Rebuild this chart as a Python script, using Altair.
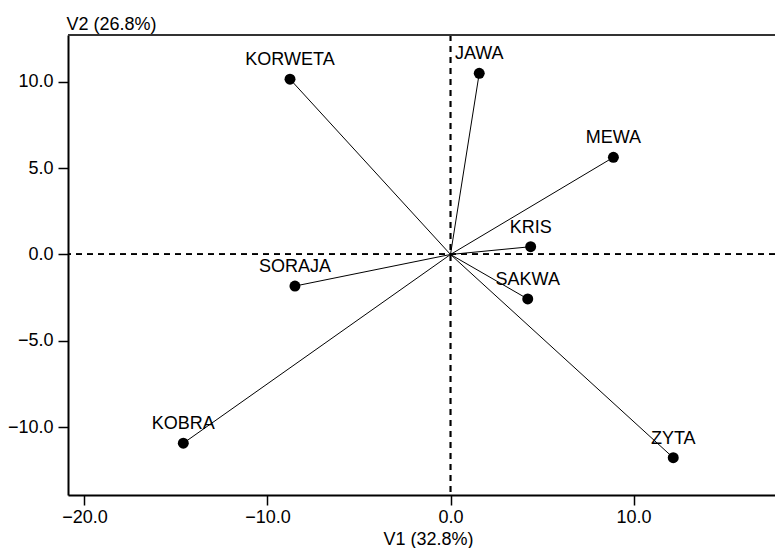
import altair as alt
import pandas as pd

names = ["KORWETA", "JAWA", "MEWA", "KRIS", "SAKWA", "SORAJA", "KOBRA", "ZYTA"]
v1 = [-8.77, 1.57, 8.90, 4.38, 4.22, -8.50, -14.60, 12.17]
v2 = [10.16, 10.50, 5.63, 0.45, -2.58, -1.83, -10.94, -11.78]

x_ticks = [-20, -10, 0, 10]
y_ticks = [-10, -5, 0, 5, 10]
x_dom = [-20.90, 17.73]
y_dom = [-13.94, 12.72]

df = pd.DataFrame({"name": names, "v1": v1, "v2": v2})

FONT = "Liberation Sans"
FS = 18
W = 707

xs = alt.Scale(domain=x_dom, nice=False, zero=False)
ys = alt.Scale(domain=y_dom, nice=False, zero=False)

base = alt.Chart(df)

x_enc = alt.X("v1:Q", scale=xs, axis=alt.Axis(
    values=x_ticks, format=".1f", grid=False, title="V1 (32.8%)",
    domainColor="black", domainWidth=2, tickColor="black", tickWidth=1.5, tickSize=10,
    labelFont=FONT, labelFontSize=FS, labelColor="black", labelPadding=3,
    titleFont=FONT, titleFontSize=FS, titleFontWeight="normal", titleColor="black",
    titleX=360, titleY=44, titleAlign="center", titleBaseline="middle",
    labelFlush=False, labelOverlap=False))
y_enc = alt.Y("v2:Q", scale=ys, axis=alt.Axis(
    values=y_ticks, format=".1f", grid=False, title="V2 (26.8%)",
    domainColor="black", domainWidth=2, tickColor="black", tickWidth=1.5, tickSize=10,
    labelFont=FONT, labelFontSize=FS, labelColor="black", labelPadding=5,
    titleFont=FONT, titleFontSize=FS, titleFontWeight="normal", titleColor="black",
    titleAngle=0, titleX=-2, titleY=-11, titleAlign="left", titleBaseline="middle",
    labelFlush=False, labelOverlap=False))

vecs = base.mark_rule(color="black", strokeWidth=1).encode(
    x=x_enc, y=y_enc, x2=alt.datum(0), y2=alt.datum(0))

hline = alt.Chart(df).mark_rule(color="black", strokeWidth=1.2, strokeDash=[6, 5]).encode(
    y=alt.datum(0, scale=ys))
vline = alt.Chart(df).mark_rule(color="black", strokeWidth=1.2, strokeDash=[6, 5]).encode(
    x=alt.datum(0, scale=xs))
topline = alt.Chart(df).mark_rule(color="#333333", strokeWidth=2).encode(
    x=alt.value(0), x2=alt.value(W), y=alt.value(0))

pts = base.mark_circle(color="black", opacity=1, size=120).encode(x="v1:Q", y="v2:Q")
labels = base.mark_text(font=FONT, fontSize=FS, color="black", dy=-19,
                        baseline="middle", align="center").encode(
    x="v1:Q", y="v2:Q", text="name:N")

chart = alt.layer(vecs, hline, vline, topline, pts, labels).properties(
    width=W, height=460,
    autosize=alt.AutoSizeParams(type="none"),
    padding={"left": 60, "top": 27, "right": 0, "bottom": 53},
).configure_view(stroke=None).configure(background="white")

chart.save("out.html", embed_options={"renderer": "svg", "actions": False})
